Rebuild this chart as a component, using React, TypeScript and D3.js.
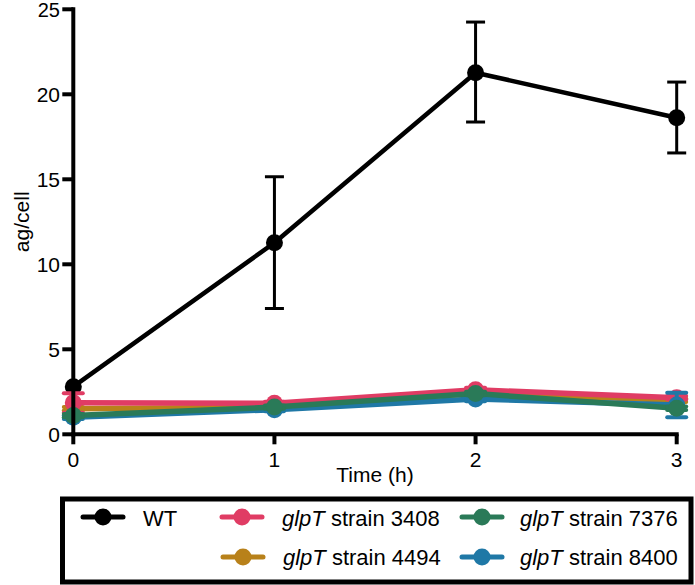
import React from "react";
import * as d3 from "d3";

const times = [0, 1, 2, 3];
const xTicks = [0, 1, 2, 3];
const yTicks = [0, 5, 10, 15, 20, 25];

const seriesNames = ["WT", "glpT strain 4494", "glpT strain 3408", "glpT strain 8400", "glpT strain 7376"];
const seriesColors = ["#000000", "#B8811A", "#E03C64", "#1F78A6", "#2A7A58"];

const wtMean = [2.8, 11.27, 21.27, 18.62];
const wtLow = [2.8, 7.4, 18.37, 16.55];
const wtHigh = [2.8, 15.15, 24.25, 20.72];

const s4494Mean = [1.5, 1.6, 2.4, 2.0];
const s4494Low = [1.4, 1.5, 2.3, 1.9];
const s4494High = [1.6, 1.7, 2.5, 2.1];

const s3408Mean = [1.85, 1.82, 2.62, 2.15];
const s3408Low = [1.27, 1.72, 2.5, 2.05];
const s3408High = [2.41, 1.92, 2.74, 2.25];

const s8400Mean = [1.0, 1.45, 2.08, 1.72];
const s8400Low = [0.9, 1.35, 1.95, 1.0];
const s8400High = [1.1, 1.55, 2.2, 2.45];

const s7376Mean = [1.1, 1.6, 2.4, 1.53];
const s7376Low = [1.0, 1.5, 2.3, 1.43];
const s7376High = [1.2, 1.7, 2.5, 1.63];

const means = [wtMean, s4494Mean, s3408Mean, s8400Mean, s7376Mean];
const lows = [wtLow, s4494Low, s3408Low, s8400Low, s7376Low];
const highs = [wtHigh, s4494High, s3408High, s8400High, s7376High];

// legend order (row, col) by series index
const legendOrder = [0, 2, 4, 1, 3];

export default function App() {
  const W = 695, H = 585;
  const x = d3.scaleLinear().domain([0, 3]).range([73.3, 676.7]);
  const y = d3.scaleLinear().domain([0, 25]).range([434.3, 9.3]);
  const line = d3.line<number>().x((_, i) => x(times[i])).y((d) => y(d));
  const font = "'Liberation Sans', Arial, Helvetica, sans-serif";

  const legendPos: Record<number, { mx: number; tx: number; my: number; ty: number }> = {
    0: { mx: 103, tx: 143, my: 517, ty: 526 },
    2: { mx: 242, tx: 282, my: 517, ty: 526 },
    4: { mx: 482, tx: 520, my: 517, ty: 526 },
    1: { mx: 243, tx: 283, my: 557, ty: 565 },
    3: { mx: 482, tx: 520, my: 557, ty: 565 },
  };

  return (
    <svg width={W} height={H} style={{ position: "absolute", left: 0, top: 0 }} fontFamily={font}>
      <rect width={W} height={H} fill="#fff" />
      {/* series */}
      {means.map((m, si) => {
        const c = seriesColors[si];
        const isWT = si === 0;
        return (
          <g key={si}>
            <path d={line(m) || ""} fill="none" stroke={c} strokeWidth={isWT ? 4.5 : 5.5} strokeLinejoin="round" />
            {m.map((v, i) => {
              const lo = lows[si][i], hi = highs[si][i];
              const cx = x(times[i]);
              return (
                <g key={i}>
                  {hi - lo > 0.01 && (
                    <g stroke={c} strokeWidth={isWT ? 3 : 4}>
                      <line x1={cx} x2={cx} y1={y(lo)} y2={y(hi)} />
                      <line x1={cx - 9.5} x2={cx + 9.5} y1={y(hi)} y2={y(hi)} strokeLinecap={isWT ? "butt" : "round"} />
                      <line x1={cx - 9.5} x2={cx + 9.5} y1={y(lo)} y2={y(lo)} strokeLinecap={isWT ? "butt" : "round"} />
                    </g>
                  )}
                  <circle cx={cx} cy={y(v)} r={8.5} fill={c} />
                </g>
              );
            })}
          </g>
        );
      })}
      {/* axes */}
      <g stroke="#000" strokeWidth={4}>
        <line x1={x(0)} x2={x(0)} y1={y(25) - 2} y2={y(0) + 2} />
        <line x1={x(0) - 2} x2={x(3) + 2} y1={y(0)} y2={y(0)} />
        {yTicks.map((t) => (
          <line key={"yt" + t} x1={x(0) - 11} x2={x(0)} y1={y(t)} y2={y(t)} />
        ))}
        {xTicks.map((t) => (
          <line key={"xt" + t} x1={x(t)} x2={x(t)} y1={y(0)} y2={y(0) + 10} />
        ))}
      </g>
      <g fontSize={21} fill="#000">
        {yTicks.map((t) => (
          <text key={"yl" + t} x={60} y={y(t) + 7.5} textAnchor="end" fontSize={t === 25 ? 20 : 21} dy={t === 25 ? 0.5 : 0}>{t}</text>
        ))}
        {xTicks.map((t) => (
          <text key={"xl" + t} x={x(t)} y={467} textAnchor="middle">{t}</text>
        ))}
        <text x={(x(0) + x(3)) / 2} y={482} textAnchor="middle">Time (h)</text>
        <text transform={`translate(29,${(y(0) + y(25)) / 2}) rotate(-90)`} textAnchor="middle">ag/cell</text>
      </g>
      {/* legend */}
      <rect x={62.5} y={499} width={628.5} height={83} fill="none" stroke="#000" strokeWidth={5} />
      {legendOrder.map((si) => {
        const p = legendPos[si];
        const c = seriesColors[si];
        const name = seriesNames[si];
        const italic = name.startsWith("glpT");
        return (
          <g key={"lg" + si}>
            <line x1={p.mx - 20} x2={p.mx + 20} y1={p.my} y2={p.my} stroke={c} strokeWidth={5} strokeLinecap="round" />
            <circle cx={p.mx} cy={p.my} r={8.5} fill={c} />
            <text x={p.tx} y={p.ty} fontSize={22} fill="#000">
              {italic ? (
                <>
                  <tspan fontStyle="italic">glpT</tspan>
                  <tspan>{name.slice(4)}</tspan>
                </>
              ) : (
                name
              )}
            </text>
          </g>
        );
      })}
    </svg>
  );
}
